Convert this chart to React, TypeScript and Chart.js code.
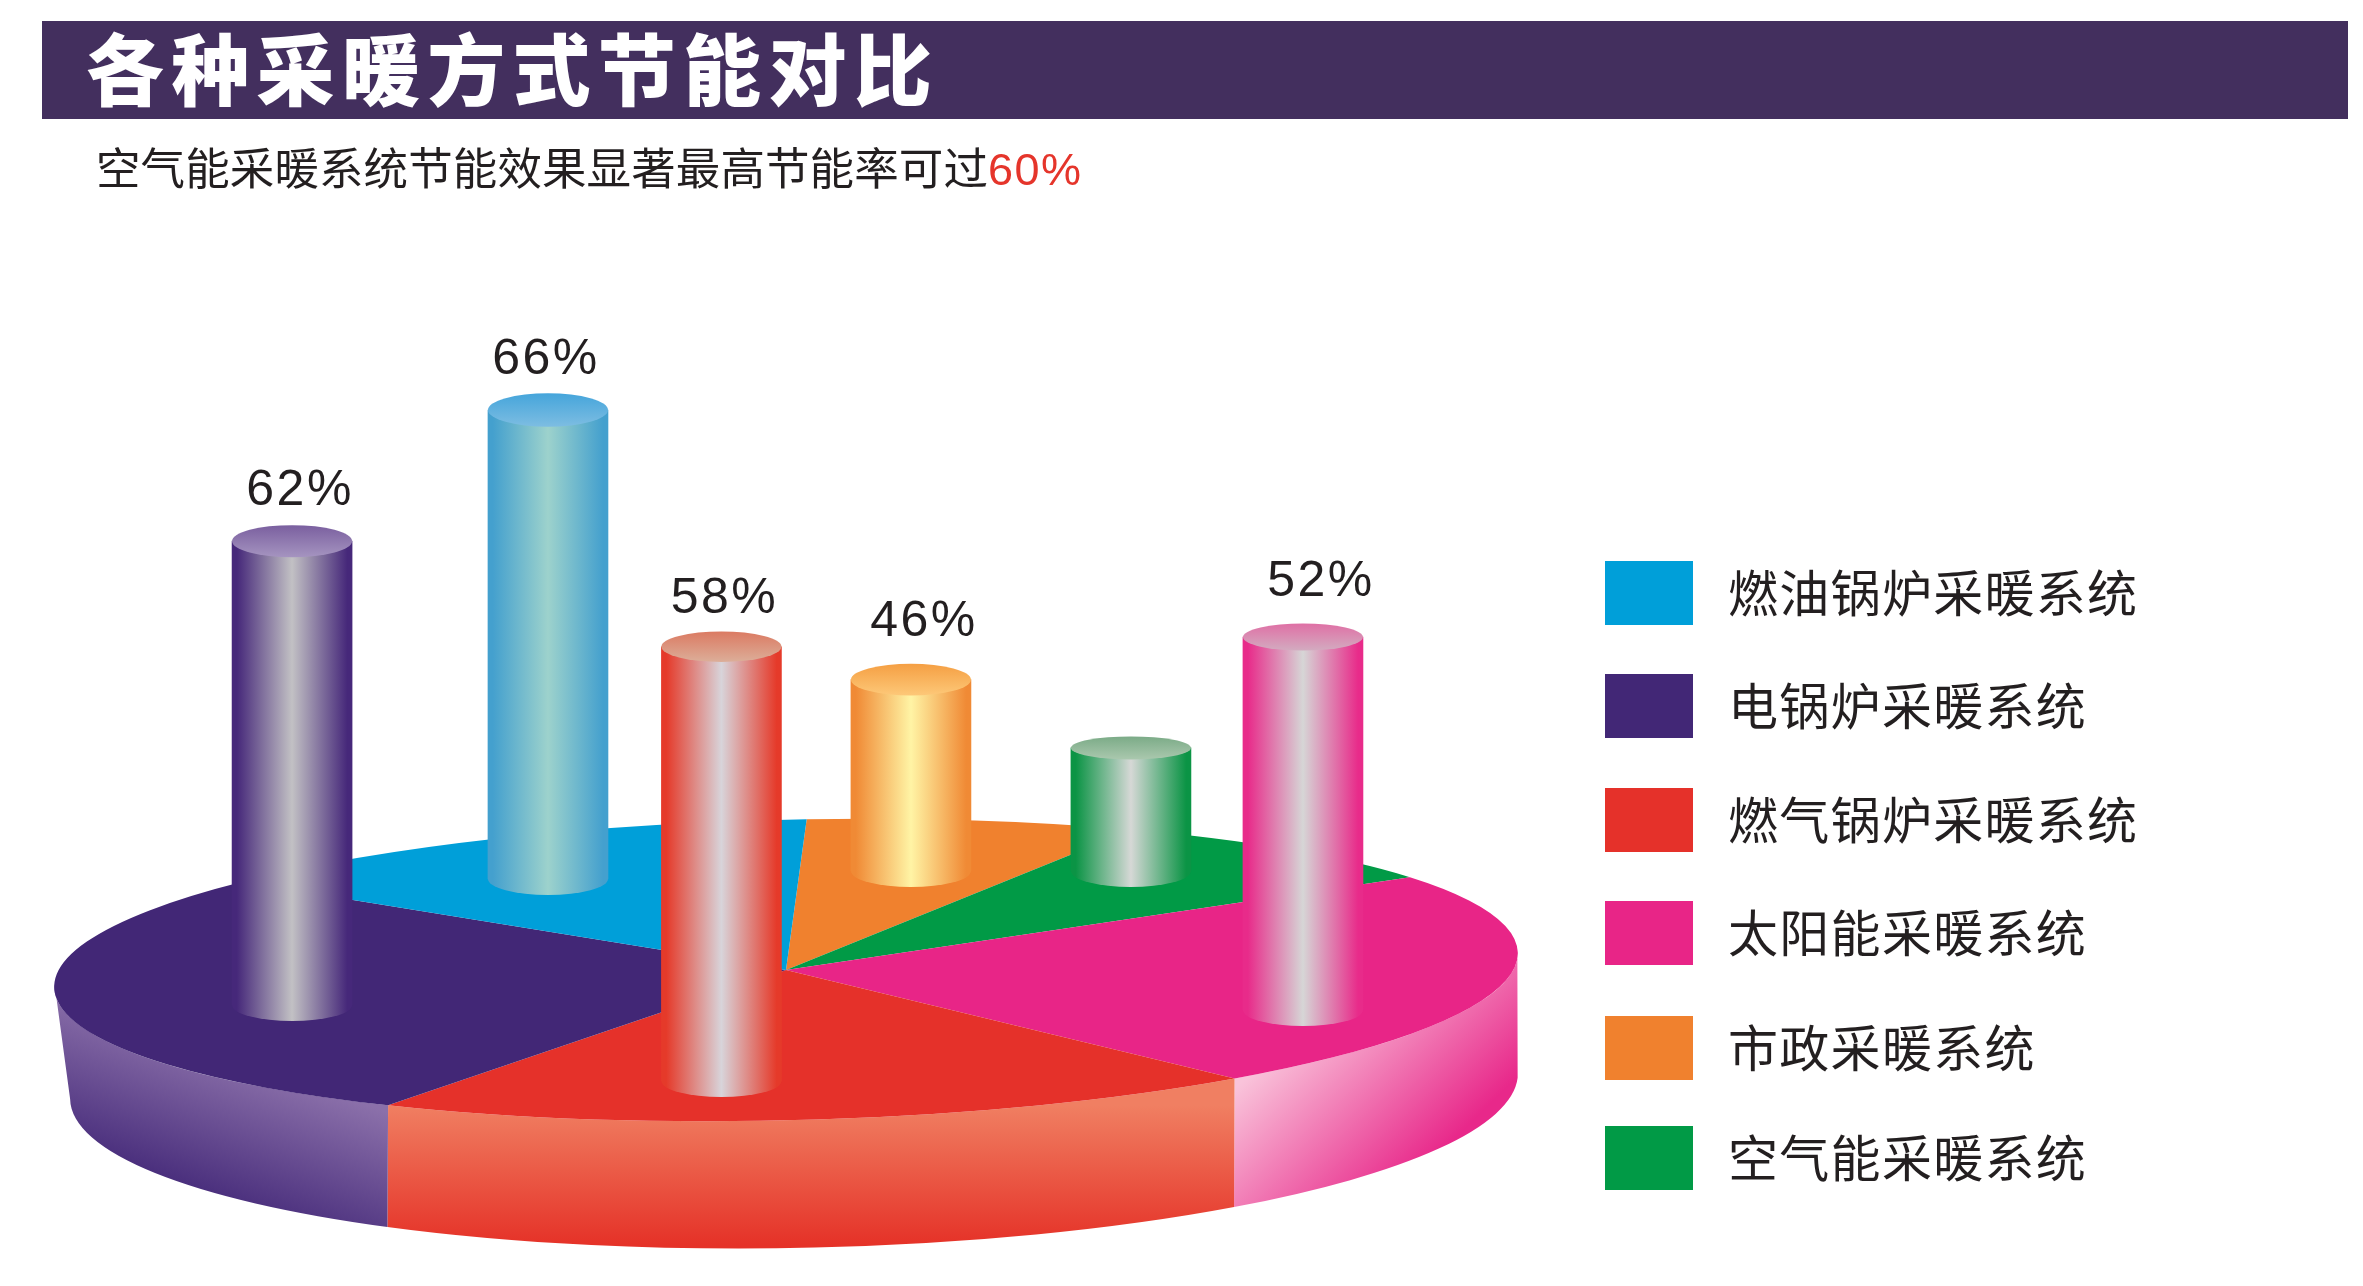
import React, { useEffect, useRef } from "react";
import { Chart, registerables } from "chart.js";

Chart.register(...registerables);

// Clockwise round the pie, starting just right of twelve o'clock.
const systems = ["市政采暖系统", "空气能采暖系统", "太阳能采暖系统", "燃气锅炉采暖系统", "电锅炉采暖系统", "燃油锅炉采暖系统"];
const shares = [7.4, 8.4, 23.25, 19.65, 27.5, 13.8];
const colors = ["#f0812e", "#019a46", "#e82587", "#e5312a", "#422776", "#009fd9"];
const legendOrder = [5, 4, 3, 2, 0, 1];

// Saving rate printed over each column (the green column carries no label).
const savingLabels = ["46%", "", "52%", "58%", "62%", "66%"];
// Columns, in plot units (0-100 on each axis).
const columnAt = [38.55, 47.86, 55.14, 30.53, 12.36, 23.19];
const columnFloor = [32.27, 32.27, 21.46, 15.94, 21.85, 31.65];
const columnTop = [47.15, 41.84, 50.46, 49.71, 57.92, 68.12];

const W = 2363;
const H = 1286;
const DISC = { cx: 786, cy: 970, rx: 732, ry: 150.3, tilt: 0.0239 };
const BASE = { cx: 794, cy: 1086, rx: 724, ry: 162, tilt: 0.018 };
const COL_W = 120;
const capDepth = [15.8, 11.5, 13.5, 15.3, 16, 16.7];
const BOTTOM_RY = 16;
const legendRowTop = [561, 674, 788, 901, 1016, 1126];

const labelShift = [[13, 28], [0, 0], [18, 28], [3, 18], [8, 20], [-2, 19]];
const shine = [
  ["#f08a35", "#fff4a5"],
  ["#0b9445", "#d6d8d6"],
  ["#e82b8a", "#d6d6d6"],
  ["#e53a2a", "#d8d4da"],
  ["#46287a", "#c2c1c4"],
  ["#44a0ce", "#9dd2cc"],
];
const capShade = [
  ["#f59f43", "#fdc878"],
  ["#7bab87", "#aac8ae"],
  ["#df70a5", "#d3abc0"],
  ["#db7a62", "#dcae99"],
  ["#7a5f9f", "#a594c0"],
  ["#45a5db", "#7dbde2"],
];

function wallFill(ctx: CanvasRenderingContext2D, i: number) {
  let g: CanvasGradient;
  if (i === 2) {
    g = ctx.createLinearGradient(1370, 1222, 1237, 1087);
    g.addColorStop(0, "#e8288a");
    g.addColorStop(1, "#f9c3da");
  } else if (i === 3) {
    g = ctx.createLinearGradient(0, 1105, 0, 1245);
    g.addColorStop(0, "#f07f62");
    g.addColorStop(1, "#e53228");
  } else {
    g = ctx.createLinearGradient(335, 1257, 389, 1113);
    g.addColorStop(0, "#432878");
    g.addColorStop(1, "#8b70aa");
  }
  return g;
}

// The angle on the lower rim lying straight below an angle on the upper rim.
function below(angle: number) {
  const x = DISC.cx + DISC.rx * Math.cos(angle);
  return Math.acos(Math.max(-1, Math.min(1, (x - BASE.cx) / BASE.rx)));
}

const discPlugin = {
  id: "disc3d",
  beforeDatasetsDraw(chart: any) {
    const ctx = chart.ctx as CanvasRenderingContext2D;
    const arcs = chart.getDatasetMeta(0).data;
    arcs.forEach((arc: any, i: number) => {
      const lo = Math.max(arc.startAngle, -0.03);
      const hi = Math.min(arc.endAngle, Math.PI + 0.03);
      if (hi <= lo) return;
      ctx.beginPath();
      ctx.ellipse(DISC.cx, DISC.cy, DISC.rx, DISC.ry, -DISC.tilt, lo, hi);
      ctx.ellipse(BASE.cx, BASE.cy, BASE.rx, BASE.ry, -BASE.tilt, below(hi), below(lo), true);
      ctx.closePath();
      ctx.fillStyle = wallFill(ctx, i);
      ctx.fill();
    });
    const a = arcs[0];
    ctx.save();
    ctx.translate(DISC.cx, DISC.cy);
    ctx.rotate(-DISC.tilt);
    ctx.scale(DISC.rx / a.outerRadius, DISC.ry / a.outerRadius);
    ctx.translate(-a.x, -a.y);
  },
  afterDatasetsDraw(chart: any) {
    chart.ctx.restore();
  },
};

const capPlugin = {
  id: "columnCaps",
  afterDatasetsDraw(chart: any) {
    const ctx = chart.ctx as CanvasRenderingContext2D;
    chart.getDatasetMeta(0).data.forEach((bar: any, i: number) => {
      const half = bar.width / 2;
      const depth = capDepth[i];
      ctx.beginPath();
      ctx.ellipse(bar.x, bar.base, half, BOTTOM_RY, 0, 0, Math.PI);
      ctx.fillStyle = bar.options.backgroundColor;
      ctx.fill();

      const g = ctx.createLinearGradient(0, bar.y - depth, 0, bar.y + depth);
      g.addColorStop(0, capShade[i][0]);
      g.addColorStop(1, capShade[i][1]);
      ctx.beginPath();
      ctx.ellipse(bar.x, bar.y, half, depth, 0, 0, Math.PI * 2);
      ctx.fillStyle = g;
      ctx.fill();

      if (savingLabels[i]) {
        ctx.save();
        ctx.font = "50px 'Liberation Sans'";
        (ctx as any).letterSpacing = "2.5px";
        ctx.textAlign = "center";
        ctx.textBaseline = "alphabetic";
        ctx.fillStyle = "#231f20";
        ctx.fillText(savingLabels[i], bar.x + labelShift[i][0], bar.y - depth - labelShift[i][1]);
        ctx.restore();
      }
    });
  },
};

const abs = (o: React.CSSProperties): React.CSSProperties => ({ position: "absolute", ...o });
const CJK = "'Noto Sans CJK SC', sans-serif";

export default function App() {
  const pieRef = useRef<HTMLCanvasElement>(null);
  const barRef = useRef<HTMLCanvasElement>(null);

  useEffect(() => {
    const pie = new Chart(pieRef.current!, {
      type: "pie",
      data: {
        labels: systems,
        datasets: [{ data: shares, backgroundColor: colors, borderWidth: 0, clip: false as any }],
      },
      options: {
        responsive: false,
        animation: false,
        rotation: 1.9,
        layout: { padding: 0 },
        plugins: { legend: { display: false }, tooltip: { enabled: false } },
      },
      plugins: [discPlugin],
    } as any);

    const bars = new Chart(barRef.current!, {
      type: "bar",
      data: {
        labels: systems,
        datasets: [
          {
            data: columnAt.map((x, i) => ({ x, y: [columnFloor[i], columnTop[i]] })),
            barThickness: COL_W,
            borderWidth: 0,
            borderSkipped: false,
            backgroundColor: (c: any) => {
              const edgeMid = shine[c.dataIndex];
              if (c.type !== "data" || !edgeMid) return "#888888";
              const px = c.chart.scales.x.getPixelForValue(columnAt[c.dataIndex]);
              if (!Number.isFinite(px)) return edgeMid[0];
              const g = c.chart.ctx.createLinearGradient(px - COL_W / 2, 0, px + COL_W / 2, 0);
              const [edge, mid] = edgeMid;
              g.addColorStop(0, edge);
              g.addColorStop(0.04, edge);
              g.addColorStop(0.5, mid);
              g.addColorStop(0.96, edge);
              g.addColorStop(1, edge);
              return g;
            },
          },
        ],
      },
      options: {
        responsive: false,
        animation: false,
        layout: { padding: 0 },
        scales: {
          x: { type: "linear", min: 0, max: 100, display: false, offset: false },
          y: { type: "linear", min: 0, max: 100, display: false },
        },
        plugins: { legend: { display: false }, tooltip: { enabled: false } },
      },
      plugins: [capPlugin],
    } as any);

    return () => {
      pie.destroy();
      bars.destroy();
    };
  }, []);

  return (
    <div style={abs({ left: 0, top: 0, width: W, height: H, overflow: "hidden", background: "#fff" })}>
      <canvas ref={pieRef} width={W} height={H} style={abs({ left: 0, top: 0 })} />
      <canvas ref={barRef} width={W} height={H} style={abs({ left: 0, top: 0 })} />
      <div style={abs({ left: 42, top: 21, width: 2306, height: 98, background: "#432f5e" })} />
      <div
        style={abs({
          left: 86,
          top: 17,
          height: 98,
          lineHeight: "98px",
          fontFamily: CJK,
          fontWeight: 900,
          fontSize: 78,
          letterSpacing: 7.3,
          color: "#fff",
          whiteSpace: "nowrap",
        })}
      >
        各种采暖方式节能对比
      </div>
      <div
        style={abs({
          left: 96,
          top: 137,
          height: 58,
          lineHeight: "58px",
          fontFamily: CJK,
          fontSize: 44.5,
          letterSpacing: 0.1,
          color: "#231f20",
          whiteSpace: "nowrap",
        })}
      >
        空气能采暖系统节能效果显著最高节能率可过
        <span style={{ color: "#e5352b", fontFamily: "'Liberation Sans'", fontSize: 45, letterSpacing: 1.5 }}>60%</span>
      </div>
      {legendOrder.map((idx, row) => (
        <div key={idx}>
          <div
            style={abs({ left: 1605, top: legendRowTop[row], width: 88, height: 64, background: colors[idx] })}
          />
          <div
            style={abs({
              left: 1728,
              top: legendRowTop[row] - 3,
              height: 64,
              lineHeight: "64px",
              fontFamily: CJK,
              fontSize: 50,
              letterSpacing: 1.3,
              color: "#231f20",
              whiteSpace: "nowrap",
            })}
          >
            {systems[idx]}
          </div>
        </div>
      ))}
    </div>
  );
}
